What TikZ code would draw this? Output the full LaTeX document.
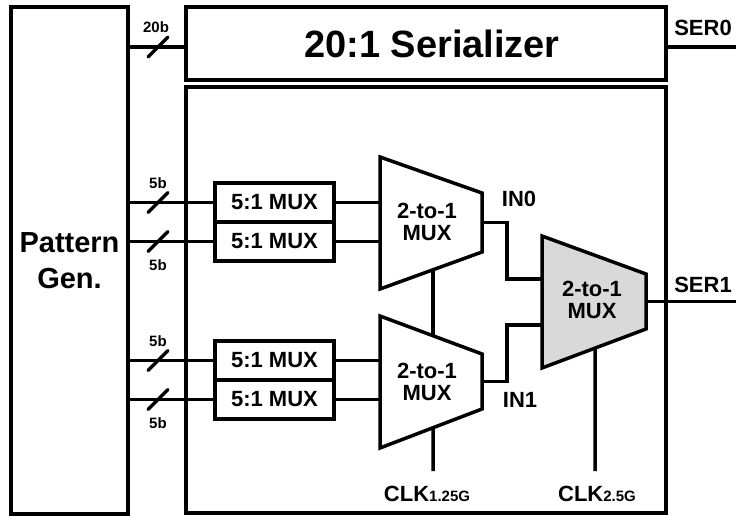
\documentclass[tikz,border=0pt]{standalone}
\usepackage{fontspec}
\setmainfont{Liberation Sans}
\usetikzlibrary{calc}
\begin{document}
\begin{tikzpicture}[x=1pt,y=-1pt,line width=3.5pt,line join=miter,
  box/.style={draw,rectangle,inner sep=0pt,outer sep=0pt},
  mux51/.style={box,fill=white,minimum width=119pt,minimum height=39pt,font=\fontsize{22}{22}\selectfont\bfseries},
  muxtxt/.style={align=center,inner sep=0pt,font=\fontsize{22}{22}\selectfont\bfseries},
  lbl/.style={inner sep=0pt,font=\fontsize{22}{22}\selectfont\bfseries},
  bits/.style={inner sep=0pt,font=\fontsize{15}{15}\selectfont\bfseries},
  busmark/.style={line width=3.5pt,line cap=round}]
\useasboundingbox (0,0) rectangle (736,516);

% main blocks
\node[box,minimum width=117pt,minimum height=507pt,align=center,
      font=\fontsize{29}{36}\selectfont\bfseries] (pg) at (69.5,260.5) {Pattern\\Gen.};
\node[box,minimum width=480pt,minimum height=73pt] (ser) at (426,43.5) {};
\node[inner sep=0pt,font=\fontsize{38}{40}\selectfont\bfseries] (sertxt) at (432,44) {20:1 Serializer};
\node[box,minimum width=480pt,minimum height=426pt] (core) at (426,300) {};

% 5:1 muxes
\node[mux51] (a1) at (274.5,202.5) {5:1 MUX};
\node[mux51] (a2) at (274.5,241.5) {5:1 MUX};
\node[mux51] (a3) at (274.5,360.5) {5:1 MUX};
\node[mux51] (a4) at (274.5,399.5) {5:1 MUX};

% 2-to-1 mux shapes
\coordinate (m1a) at (380,157); \coordinate (m1b) at (482,193);
\coordinate (m1c) at (482,252); \coordinate (m1d) at (380,289);
\coordinate (m2a) at (380,316); \coordinate (m2b) at (482,354);
\coordinate (m2c) at (482,409); \coordinate (m2d) at (380,448);
\coordinate (m3a) at (542,236); \coordinate (m3b) at (646,274);
\coordinate (m3c) at (646,329); \coordinate (m3d) at (542,368);
\draw[fill=white] (m1a)--(m1b)--(m1c)--(m1d)--cycle;
\draw[fill=white] (m2a)--(m2b)--(m2c)--(m2d)--cycle;
\draw[fill=black!15] (m3a)--(m3b)--(m3c)--(m3d)--cycle;
\node[muxtxt] (m1) at (427,222) {2-to-1\\MUX};
\node[muxtxt] (m2) at (427,382) {2-to-1\\MUX};
\node[muxtxt] (m3) at (592,300) {2-to-1\\MUX};

% bus lines from pattern generator
\coordinate (b0) at (158,47);
\coordinate (b1) at (158,202.5);
\coordinate (b2) at (158,241.5);
\coordinate (b3) at (158,360.5);
\coordinate (b4) at (158,399.5);
\draw (b0 -| pg.east) -- (b0 -| ser.west);
\draw (a1.west -| pg.east) -- (a1.west);
\draw (a2.west -| pg.east) -- (a2.west);
\draw (a3.west -| pg.east) -- (a3.west);
\draw (a4.west -| pg.east) -- (a4.west);
\foreach \b in {b0,b1,b2,b3,b4}
  \draw[busmark] ($(\b)+(-10,10)$) -- ($(\b)+(10,-10)$);
\node[bits] (l0) at (156,27) {20b};
\node[bits] (l1) at (158,183) {5b};
\node[bits] (l2) at (158,265) {5b};
\node[bits] (l3) at (158,341) {5b};
\node[bits] (l4) at (158,423) {5b};

% 5:1 to 2-to-1
\draw (a1.east) -- (a1.east -| m1a);
\draw (a2.east) -- (a2.east -| m1a);
\draw (a3.east) -- (a3.east -| m2a);
\draw (a4.east) -- (a4.east -| m2a);

% 2-to-1 outputs to final mux
\coordinate (m1out) at ($(m1b)!0.5!(m1c)$);
\coordinate (m2out) at ($(m2b)!0.5!(m2c)$);
\coordinate (m3out) at ($(m3b)!0.5!(m3c)$);
\coordinate (m3i0) at (542,279);
\coordinate (m3i1) at (542,325);
\coordinate (j0) at (507,279);
\coordinate (j1) at (507,325);
\draw (m1out) -| (j0) -- (m3i0);
\draw (m2out) -| (j1) -- (m3i1);
\node[lbl] (in0) at (519,199) {IN0};
\node[lbl] (in1) at (520,400) {IN1};

% clocks
\coordinate (c1top) at ($(m1d)!0.52!(m1c)$);
\coordinate (c1mid) at ($(m2a)!0.52!(m2b)$);
\coordinate (c1bot) at ($(m2d)!0.52!(m2c)$);
\coordinate (clk1) at (433,471);
\coordinate (c2top) at ($(m3d)!0.51!(m3c)$);
\coordinate (clk2) at (595,471);
\draw (c1top) -- (c1mid);
\draw (c1bot) -- (clk1);
\draw (c2top) -- (clk2);
\node[lbl,anchor=base] (clk1l) at (427,501) {CLK{\fontsize{15}{15}\selectfont 1.25G}};
\node[lbl,anchor=base] (clk2l) at (597,501) {CLK{\fontsize{15}{15}\selectfont 2.5G}};

% serial outputs
\coordinate (so0) at (736,47);
\coordinate (so1) at (736,301.5);
\draw (so0 -| ser.east) -- (so0);
\draw (m3out) -- (so1);
\node[lbl] (ser0) at (703,28) {SER0};
\node[lbl] (ser1) at (703,285) {SER1};
\end{tikzpicture}
\end{document}
